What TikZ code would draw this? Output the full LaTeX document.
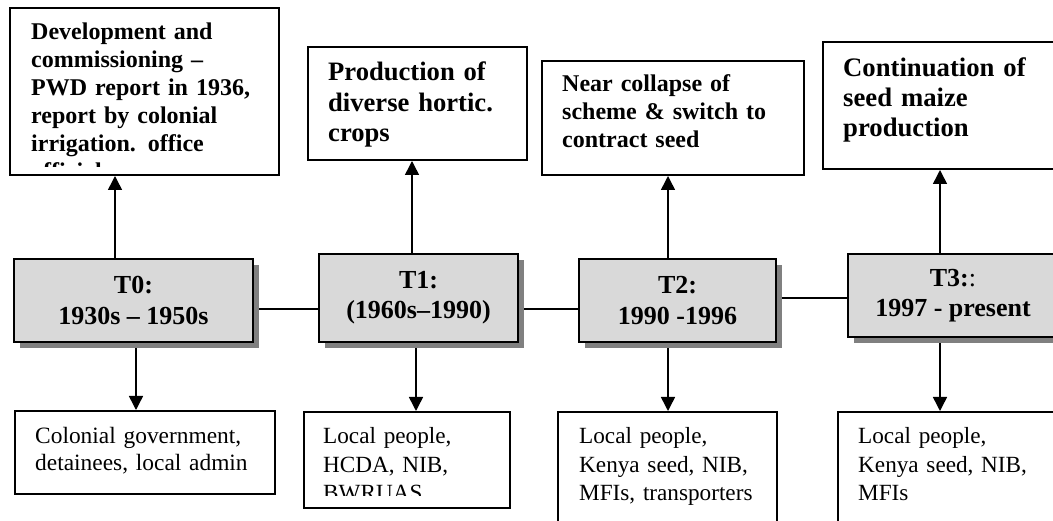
\documentclass[tikz,border=0pt]{standalone}
\usepackage{fontspec}
\setmainfont{Liberation Serif}
\usetikzlibrary{arrows.meta,shadows,backgrounds}

\definecolor{periodfill}{HTML}{D9D9D9}
\definecolor{shadowgray}{HTML}{808080}

\tikzset{
  notebox/.style={draw, line width=2pt, fill=white, inner sep=0pt, anchor=north west},
  period/.style={draw, line width=2pt, fill=periodfill, inner sep=0pt, align=center,
    font=\bfseries\fontsize{26}{31}\selectfont,
    general shadow={shadow xshift=6pt, shadow yshift=-6pt, fill=shadowgray}},
  eventtext/.style={anchor=base west, inner sep=0pt, align=left, text width=235pt,
    font=\bfseries\fontsize{24}{28}\selectfont},
  bigeventtext/.style={eventtext, font=\bfseries\fontsize{26.6}{30.5}\selectfont},
  actortext/.style={anchor=base west, inner sep=0pt, align=left, text width=220pt,
    font=\fontsize{23.2}{29}\selectfont},
  link/.style={line width=1.5pt},
  arr/.style={line width=1.5pt, -{Triangle[width=14pt,length=14pt]}},
}

\begin{document}
\begin{tikzpicture}[x=1pt,y=-1pt]
\useasboundingbox (0,0) rectangle (1053,521);
\clip (0,0) rectangle (1053,521);

% events (top row)
\node[notebox, minimum width=269, minimum height=167] (A) at (9,7) {};
\node[notebox, minimum width=219, minimum height=113] (B) at (307,46) {};
\node[notebox, minimum width=262, minimum height=114] (C) at (541,60) {};
\node[notebox, minimum width=240, minimum height=127] (D) at (822,41) {};

\begin{scope}
  \clip (9,7) rectangle (278,167);
  \node[eventtext] (Atext) at (31,40) {Development and\\commissioning –\\PWD report in 1936,\\report by colonial\\irrigation. office\\officials};
\end{scope}
\node[bigeventtext] (Btext) at (328,81) {Production of\\diverse hortic.\\crops};
\node[eventtext] (Ctext) at (562,92) {Near collapse of\\scheme \& switch to\\contract seed};
\node[bigeventtext, font=\bfseries\fontsize{26.7}{30}\selectfont] (Dtext) at (843,77) {Continuation of\\seed maize\\production};

% periods (middle row)
\node[period, minimum width=239, minimum height=83] (T0) at (133.5,300.5) {T0:\\1930s – 1950s};
\node[period, minimum width=199, minimum height=88, font=\bfseries\fontsize{26}{30}\selectfont] (T1) at (418.5,298) {T1:\\(1960s–1990)};
\node[period, minimum width=197, minimum height=83] (T2) at (677.5,300.5) {T2:\\1990 -1996};
\node[period, minimum width=210, minimum height=83, font=\bfseries\fontsize{26}{30}\selectfont] (T3) at (953,295.5) {T3:\textmd{:}\\1997 - present};

% actors (bottom row)
\node[notebox, minimum width=260, minimum height=83] (E) at (14,410) {};
\node[notebox, minimum width=206, minimum height=96] (F) at (303,411) {};
\node[notebox, minimum width=219, minimum height=130] (G) at (557,411) {};
\node[notebox, minimum width=230, minimum height=130] (H) at (837,411) {};

\node[actortext, font=\fontsize{23.4}{27}\selectfont] (Etext) at (35,443) {Colonial government,\\detainees, local admin};
\begin{scope}
  \clip (303,411) rectangle (509,495);
  \node[actortext] (Ftext) at (323,443) {Local people,\\HCDA, NIB,\\BWRUAS};
\end{scope}
\node[actortext] (Gtext) at (579,443) {Local people,\\Kenya seed, NIB,\\MFIs, transporters};
\node[actortext] (Htext) at (858,443) {Local people,\\Kenya seed, NIB,\\MFIs};

% connectors, kept beneath the boxes and their shadows
\begin{scope}[on background layer]
  \draw[link] (T0.east |- 0,309) -- (T1.west |- 0,309);
  \draw[link] (T1.east |- 0,309) -- (T2.west |- 0,309);
  \draw[link] (T2.east |- 0,298) -- (T3.west |- 0,298);

  \draw[arr] (T0.north -| 115,0) -- (A.south -| 115,0);
  \draw[arr] (T1.north -| 412,0) -- (B.south -| 412,0);
  \draw[arr] (T2.north -| 668,0) -- (C.south -| 668,0);
  \draw[arr] (T3.north -| 940,0) -- (D.south -| 940,0);

  \draw[arr] (T0.south -| 136,0) -- (E.north -| 136,0);
  \draw[arr] (T1.south -| 416,0) -- (F.north -| 416,0);
  \draw[arr] (T2.south -| 668,0) -- (G.north -| 668,0);
  \draw[arr] (T3.south -| 940,0) -- (H.north -| 940,0);
\end{scope}
\end{tikzpicture}
\end{document}
